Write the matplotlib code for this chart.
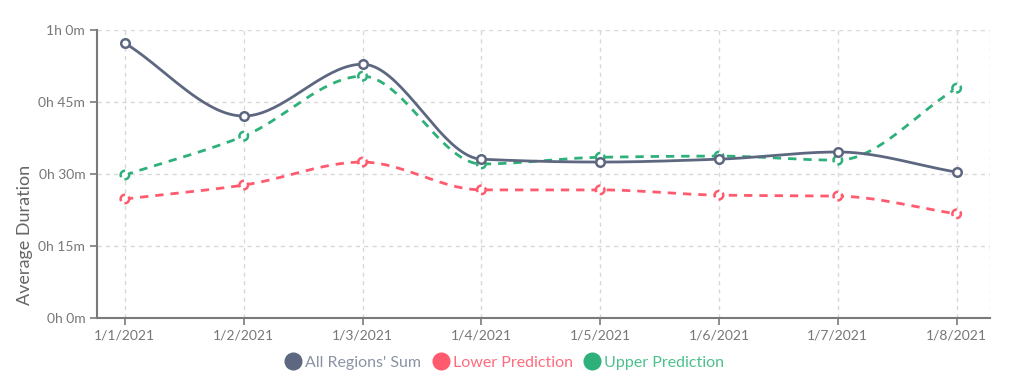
import numpy as np
import matplotlib.pyplot as plt
from matplotlib.lines import Line2D

plt.rcParams['font.family'] = ['Lato', 'DejaVu Sans']

# data (minutes)
dates = ["1/1/2021", "1/2/2021", "1/3/2021", "1/4/2021", "1/5/2021", "1/6/2021", "1/7/2021", "1/8/2021"]
total = [57.3, 42.1, 52.9, 33.1, 32.5, 33.1, 34.6, 30.4]
lower = [24.8, 27.7, 32.5, 26.7, 26.7, 25.6, 25.4, 21.7]
upper = [29.8, 37.9, 50.4, 32.1, 33.5, 33.75, 32.9, 47.9]

c_total = "#5d6880"
c_lower = "#ff5a6e"
c_upper = "#2eb07a"


def monotone(x, y, n=40):
    # Fritsch-Carlson monotone cubic, used only to draw smooth lines
    x = np.asarray(x, float)
    y = np.asarray(y, float)
    h = np.diff(x)
    d = np.diff(y) / h
    m = np.zeros_like(y)
    m[0], m[-1] = d[0], d[-1]
    for i in range(1, len(y) - 1):
        if d[i - 1] * d[i] <= 0:
            m[i] = 0
        else:
            m[i] = 3 * (h[i - 1] + h[i]) / ((2 * h[i] + h[i - 1]) / d[i - 1] + (h[i] + 2 * h[i - 1]) / d[i])
    xs, ys = [], []
    for i in range(len(h)):
        t = np.linspace(0, 1, n)
        h00 = 2 * t**3 - 3 * t**2 + 1
        h10 = t**3 - 2 * t**2 + t
        h01 = -2 * t**3 + 3 * t**2
        h11 = t**3 - t**2
        xs.append(x[i] + t * h[i])
        ys.append(h00 * y[i] + h10 * h[i] * m[i] + h01 * y[i + 1] + h11 * h[i] * m[i + 1])
    return np.concatenate(xs), np.concatenate(ys)


fig = plt.figure(figsize=(10.24, 3.92), dpi=100)
ax = fig.add_axes([0.0947, 0.189, 0.872, 0.734])

x = np.arange(len(dates))

for vals, col in [(lower, c_lower), (upper, c_upper)]:
    xs, ys = monotone(x, vals)
    ax.plot(xs, ys, color=col, lw=2, ls=(0, (3, 2.5)), zorder=3)
    ax.scatter(x, vals, s=38, facecolor="white", edgecolor=col, linewidths=1.8,
               linestyles="--", zorder=4)

xs, ys = monotone(x, total)
ax.plot(xs, ys, color=c_total, lw=2, zorder=5)
ax.scatter(x, total, s=38, facecolor="white", edgecolor=c_total, linewidths=1.8, zorder=6)

ax.set_xlim(-0.235, 7.28)
ax.set_ylim(0, 60)
ax.set_xticks(x)
ax.set_xticklabels(dates)
ax.set_yticks([0, 15, 30, 45, 60])
ax.set_yticklabels(["%dh %dm" % (v // 60, v % 60) for v in [0, 15, 30, 45, 60]])

ax.grid(True, color="#d8d8d8", ls=(0, (3, 3)), lw=1)
ax.axvline(7.28, color="#d8d8d8", ls=(0, (3, 3)), lw=1)
for s in ["top", "right"]:
    ax.spines[s].set_visible(False)
for s in ["left", "bottom"]:
    ax.spines[s].set_color("#7a7a7a")
    ax.spines[s].set_linewidth(1.5)
ax.tick_params(colors="#7a7a7a", labelcolor="#777777", labelsize=10, length=5, width=1.2)
ax.set_ylabel("Average Duration", color="#666666", fontsize=13)
ax.yaxis.set_label_coords(-0.072, 0.29)

handles = [Line2D([], [], marker="o", ls="", ms=12, color=c) for c in [c_total, c_lower, c_upper]]
leg = fig.legend(handles, ["All Regions' Sum", "Lower Prediction", "Upper Prediction"],
                 loc="center", bbox_to_anchor=(0.492, 0.074), ncol=3, frameon=False,
                 fontsize=11.5, handletextpad=0.15, columnspacing=0.6, handlelength=1.2)
for t, c in zip(leg.get_texts(), ["#8a93a5", "#ff6b7d", "#4cc08c"]):
    t.set_color(c)

fig.savefig("out.png", dpi=100)
